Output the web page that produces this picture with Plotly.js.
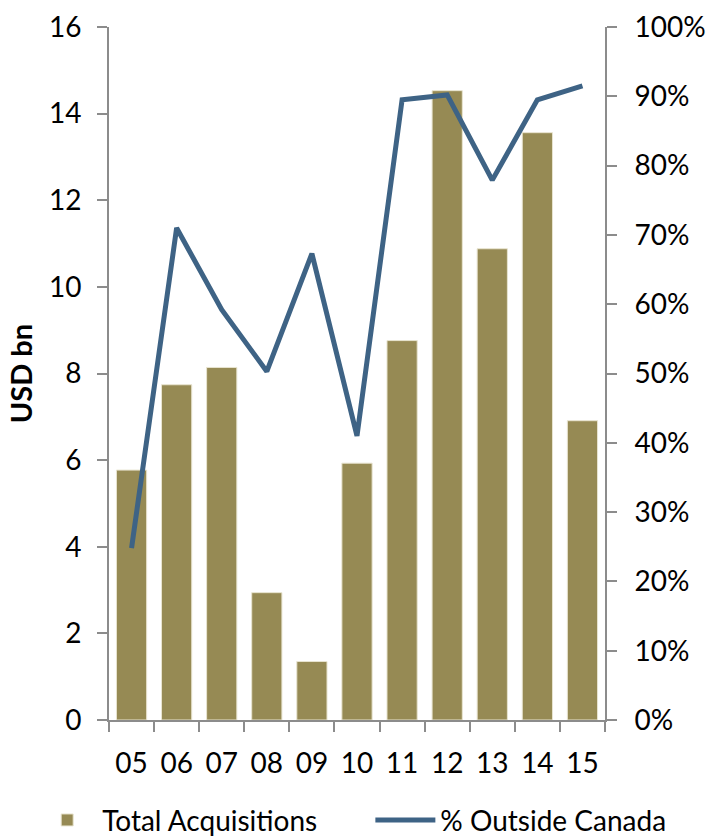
<!DOCTYPE html>
<html>
<head>
<meta charset="utf-8">
<script src="https://cdn.plot.ly/plotly-3.0.1.min.js"></script>
<style>html,body{margin:0;padding:0;background:#fff;}#chart{width:715px;height:837px;}</style>
</head>
<body>
<div id="chart"></div>
<script>
const years = ["05","06","07","08","09","10","11","12","13","14","15"];
const totalAcquisitions = [5.77, 7.74, 8.14, 2.94, 1.35, 5.93, 8.76, 14.53, 10.88, 13.56, 6.91];
const pctOutsideCanada = [0.248, 0.710, 0.592, 0.503, 0.673, 0.410, 0.895, 0.902, 0.779, 0.895, 0.915];
const leftTicks = [0, 2, 4, 6, 8, 10, 12, 14, 16];
const rightTicks = [0, 0.1, 0.2, 0.3, 0.4, 0.5, 0.6, 0.7, 0.8, 0.9, 1.0];

const font = "Lato, 'Open Sans', sans-serif";
const traces = [
  {
    type: "bar", x: years, y: totalAcquisitions, name: "Total Acquisitions",
    marker: {color: "#968A54", line: {color: "#E8E4D0", width: 1}},
    legend: "legend"
  },
  {
    type: "scatter", mode: "lines", x: years, y: pctOutsideCanada, yaxis: "y2",
    name: "% Outside Canada",
    line: {color: "#3E6385", width: 5, shape: "linear"},
    legend: "legend2"
  }
];
const axisCommon = {
  showline: true, linecolor: "#8C8C8C", linewidth: 2,
  ticks: "outside", ticklen: 10, tickcolor: "#8C8C8C", tickwidth: 2,
  showgrid: false, zeroline: false, tickfont: {size: 28, family: font, color: "#000"},
  fixedrange: true
};
const legendCommon = {
  orientation: "h", xref: "container", yref: "container",
  yanchor: "middle", xanchor: "left", y: 0.02,
  font: {size: 28, family: font, color: "#000"}, itemwidth: 60,
  bgcolor: "rgba(0,0,0,0)"
};
const layout = {
  width: 715, height: 837,
  margin: {l: 109, r: 110, t: 27, b: 117, autoexpand: false},
  paper_bgcolor: "#fff", plot_bgcolor: "#fff",
  font: {family: font, size: 28, color: "#000"},
  bargap: 0.33,
  showlegend: true,
  legend: Object.assign({}, legendCommon, {x: 0.045}),
  legend2: Object.assign({}, legendCommon, {x: 0.518}),
  xaxis: Object.assign({}, axisCommon, {
    type: "category", tickson: "boundaries", ticklabelstandoff: 17
  }),
  yaxis: Object.assign({}, axisCommon, {
    range: [0, 16], tickvals: leftTicks, ticktext: leftTicks.map(String),
    ticklabelstandoff: 10,
    title: {text: "<b>USD bn</b>", font: {size: 29, family: font, color: "#000"}, standoff: 8}
  }),
  yaxis2: Object.assign({}, axisCommon, {
    range: [0, 1], overlaying: "y", side: "right",
    tickvals: rightTicks, ticktext: rightTicks.map(v => Math.round(v * 100) + "%"),
    ticklabelstandoff: 12
  })
};
Plotly.newPlot("chart", traces, layout, {displayModeBar: false, staticPlot: true});
</script>
</body>
</html>
